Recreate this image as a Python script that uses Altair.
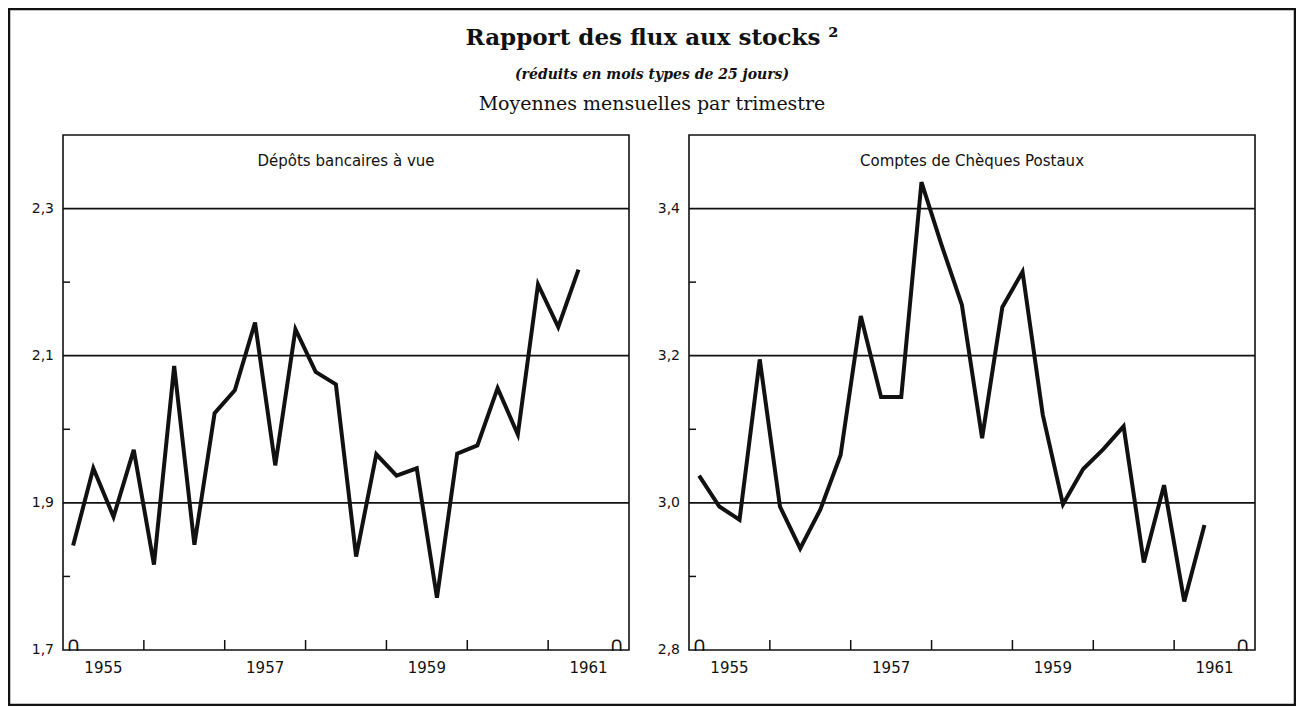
import altair as alt
import pandas as pd

# ---------------- data ----------------
periods = [
    "1955-T1", "1955-T2", "1955-T3", "1955-T4",
    "1956-T1", "1956-T2", "1956-T3", "1956-T4",
    "1957-T1", "1957-T2", "1957-T3", "1957-T4",
    "1958-T1", "1958-T2", "1958-T3", "1958-T4",
    "1959-T1", "1959-T2", "1959-T3", "1959-T4",
    "1960-T1", "1960-T2", "1960-T3", "1960-T4",
    "1961-T1", "1961-T2",
]

depots_bancaires = [
    1.842, 1.947, 1.881, 1.972, 1.816, 2.086, 1.843, 2.022,
    2.053, 2.145, 1.951, 2.136, 2.078, 2.061, 1.827, 1.966,
    1.937, 1.947, 1.771, 1.967, 1.978, 2.056, 1.993, 2.197,
    2.139, 2.217,
]

cheques_postaux = [
    3.037, 2.995, 2.977, 3.195, 2.995, 2.938, 2.991, 3.065,
    3.254, 3.144, 3.144, 3.436, 3.350, 3.269, 3.088, 3.266,
    3.314, 3.120, 2.998, 3.046, 3.073, 3.104, 2.919, 3.024,
    2.866, 2.970,
]

x_domain = [1955, 1962]
year_ticks = [1956, 1957, 1958, 1959, 1960, 1961]
year_labels = [1955, 1957, 1959, 1961]

left_domain = [1.7, 2.4]
left_labels = [1.7, 1.9, 2.1, 2.3]
left_minor = [1.8, 2.0, 2.2]

right_domain = [2.8, 3.5]
right_labels = [2.8, 3.0, 3.2, 3.4]
right_minor = [2.9, 3.1, 3.3]

title_main = "Rapport des flux aux stocks ²"
title_sub = "(réduits en mois types de 25 jours)"
title_third = "Moyennes mensuelles par trimestre"
left_title = "Dépôts bancaires à vue"
right_title = "Comptes de Chèques Postaux"

# ---------------- layout constants ----------------
W, H = 1286, 696
Y_RANGE = [641, 126]
LEFT_RANGE = [54, 620]
RIGHT_RANGE = [680, 1246]
SANS = "DejaVu Sans"
SERIF = "DejaVu Serif"
INK = "#111111"

t_vals = [int(p[:4]) + (int(p[-1]) - 0.5) / 4 for p in periods]


def panel(values, y_domain, y_labels, y_minor, x_range, label):
    xs = alt.Scale(domain=x_domain, range=x_range, nice=False, zero=False)
    ys = alt.Scale(domain=y_domain, range=Y_RANGE, nice=False, zero=False)

    def X(field):
        return alt.X(field, scale=xs, axis=None)

    def Y(field):
        return alt.Y(field, scale=ys, axis=None)

    frame_df = pd.DataFrame({"x0": [x_domain[0]], "x1": [x_domain[1]],
                             "y0": [y_domain[0]], "y1": [y_domain[1]]})
    frame = alt.Chart(frame_df).mark_rect(
        filled=False, stroke=INK, strokeWidth=1.6
    ).encode(x=X("x0:Q"), x2="x1:Q", y=Y("y0:Q"), y2="y1:Q")

    grid_df = pd.DataFrame({"g": y_labels[1:],
                            "x0": [x_domain[0]] * (len(y_labels) - 1),
                            "x1": [x_domain[1]] * (len(y_labels) - 1)})
    grid = alt.Chart(grid_df).mark_rule(color=INK, strokeWidth=1.7).encode(
        y=Y("g:Q"), x=X("x0:Q"), x2="x1:Q"
    )

    # y tick labels
    ylab_df = pd.DataFrame({
        "v": y_labels,
        "base": [x_domain[0]] * len(y_labels),
        "txt": [f"{v:.1f}".replace(".", ",") for v in y_labels],
    })
    ylab = alt.Chart(ylab_df).mark_text(
        align="right", baseline="middle", dx=-9, font=SANS, fontSize=14, color=INK
    ).encode(x=X("base:Q"), y=Y("v:Q"), text="txt:N")

    # x tick labels (years, centred on the year)
    xlab_df = pd.DataFrame({
        "pos": [y + 0.5 for y in year_labels],
        "base": [y_domain[0]] * len(year_labels),
        "txt": [str(y) for y in year_labels],
    })
    xlab = alt.Chart(xlab_df).mark_text(
        align="center", baseline="top", dy=11, font=SANS, fontSize=15, color=INK
    ).encode(x=X("pos:Q"), y=Y("base:Q"), text="txt:N")

    xt_df = pd.DataFrame({"yr": year_ticks, "base": [y_domain[0]] * len(year_ticks)})
    xticks = alt.Chart(xt_df).mark_tick(
        orient="vertical", size=10, thickness=1.5, color=INK, yOffset=-5, opacity=1
    ).encode(x=X("yr:Q"), y=Y("base:Q"))

    yt_df = pd.DataFrame({"m": y_minor, "base": [x_domain[0]] * len(y_minor)})
    yticks = alt.Chart(yt_df).mark_tick(
        orient="horizontal", size=7, thickness=1.5, color=INK, xOffset=3.5, opacity=1
    ).encode(y=Y("m:Q"), x=X("base:Q"))

    wig_df = pd.DataFrame({"wx": [x_domain[0] + 0.13, x_domain[1] - 0.15],
                           "wy": [y_domain[0], y_domain[0]]})
    wiggle = alt.Chart(wig_df).mark_text(
        text="∩", font=SANS, fontSize=20, baseline="alphabetic", color=INK, dy=1
    ).encode(x=X("wx:Q"), y=Y("wy:Q"))

    df = pd.DataFrame({"periode": periods, "t": t_vals, "v": values})
    line = alt.Chart(df).mark_line(
        color=INK, strokeWidth=4, strokeJoin="miter", strokeMiterLimit=4, strokeCap="butt"
    ).encode(
        x=X("t:Q"), y=Y("v:Q"),
        tooltip=[alt.Tooltip("periode:N"), alt.Tooltip("v:Q", format=".3f")],
    )

    ttl = alt.Chart(pd.DataFrame({"titre": [label]})).mark_text(
        font=SANS, fontSize=15, color=INK, baseline="middle", align="center"
    ).encode(
        text="titre:N",
        x=alt.value((x_range[0] + x_range[1]) / 2),
        y=alt.value(152),
    )

    return alt.layer(frame, grid, xticks, yticks, wiggle, ylab, xlab, line, ttl)


left = panel(depots_bancaires, left_domain, left_labels, left_minor, LEFT_RANGE, left_title)
right = panel(cheques_postaux, right_domain, right_labels, right_minor, RIGHT_RANGE, right_title)


def header(txt, y, size, weight="normal", style="normal"):
    return alt.Chart(pd.DataFrame({"s": [txt]})).mark_text(
        font=SERIF, fontSize=size, fontWeight=weight, fontStyle=style,
        color=INK, align="center", baseline="middle"
    ).encode(text="s:N", x=alt.value(643), y=alt.value(y))


chart = alt.layer(
    header(title_main, 29, 23, weight="bold"),
    header(title_sub, 66, 14, weight="bold", style="italic"),
    header(title_third, 95, 19),
    left,
    right,
).resolve_scale(
    x="independent", y="independent"
).properties(
    width=W, height=H, padding=1,
    autosize=alt.AutoSizeParams(type="none"),
).configure(
    background="white"
).configure_view(
    stroke=INK, strokeWidth=2.5, fill="white"
)

chart.save("out.html", embed_options={"renderer": "svg", "actions": False})
